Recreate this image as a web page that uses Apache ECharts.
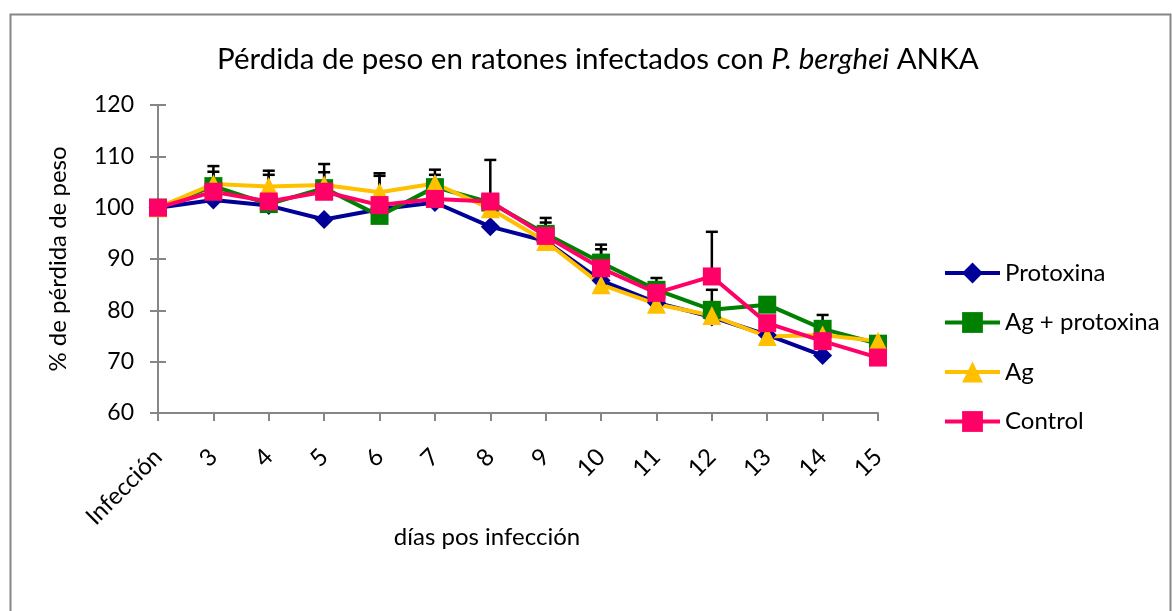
<!DOCTYPE html>
<html>
<head>
<meta charset="utf-8">
<script src="https://cdn.jsdelivr.net/npm/echarts@6/dist/echarts.min.js"></script>
<style>
html,body{margin:0;padding:0;background:#fff;}
#chart{width:1172px;height:611px;}
</style>
</head>
<body>
<div id="chart"></div>
<script>
var categories = ['Infección','3','4','5','6','7','8','9','10','11','12','13','14','15'];
var yTicks = [60, 70, 80, 90, 100, 110, 120];

var protoxina   = [100, 101.5, 100.4, 97.7, 99.7, 101.0, 96.3, 93.5, 85.8, 81.5, 78.7, 75.2, 71.2, null];
var agProtoxina = [100, 104.2, 100.7, 103.8, 98.4, 104.0, 101.0, 94.9, 89.3, 84.0, 80.1, 81.1, 76.4, 73.5];
var ag          = [100, 104.6, 104.1, 104.4, 103.0, 104.7, 99.8, 93.4, 85.0, 81.2, 79.0, 74.9, 75.2, 74.0];
var control     = [100, 103.1, 101.2, 103.1, 100.5, 101.7, 101.2, 94.5, 88.2, 83.4, 86.6, 77.5, 74.0, 70.8];

// upper error bar amounts
var errAgProtoxina = [null, 2.8, 5.7, 3.1, 7.8, 2.4, null, 3.1, 3.5, 2.3, 3.9, null, 2.7, null];
var errAg          = [null, 3.5, 3.1, 4.1, 3.7, 2.7, null, 3.7, 6.9, null, null, null, null, null];
var errControl     = [null, null, null, null, null, null, 8.1, null, null, null, 8.7, null, null, null];

var FONT = 'Lato';

function errData(vals, errs) {
  var out = [];
  for (var i = 0; i < vals.length; i++) {
    if (errs[i] != null && vals[i] != null) out.push([i, vals[i], errs[i]]);
  }
  return out;
}
var errorPoints = errData(agProtoxina, errAgProtoxina)
  .concat(errData(ag, errAg))
  .concat(errData(control, errControl));

function renderErr(params, api) {
  var i = api.value(0), v = api.value(1), e = api.value(2);
  var p0 = api.coord([i, v]);
  var p1 = api.coord([i, v + e]);
  var style = { stroke: '#000', lineWidth: 2.5 };
  return {
    type: 'group',
    children: [
      { type: 'line', shape: { x1: p0[0], y1: p0[1], x2: p1[0], y2: p1[1] }, style: style },
      { type: 'line', shape: { x1: p1[0] - 6, y1: p1[1], x2: p1[0] + 6, y2: p1[1] }, style: style }
    ]
  };
}

var chart = echarts.init(document.getElementById('chart'), null, { renderer: 'canvas' });

var axisGrey = '#868686';

function lineSeries(name, data, color, symbol, size) {
  return {
    name: name, type: 'line', data: data,
    symbol: symbol, symbolSize: size,
    lineStyle: { color: color, width: 4 },
    itemStyle: { color: color },
    z: 3,
    connectNulls: false,
    animation: false
  };
}

chart.setOption({
  backgroundColor: '#fff',
  animation: false,
  graphic: [{
    type: 'rect', left: 8, top: 12, z: 0,
    shape: { width: 1160, height: 640 },
    style: { fill: 'none', stroke: axisGrey, lineWidth: 2 }
  }],
  title: {
    text: '{n|Pérdida de peso en ratones infectados con }{i|P. berghei}{n| ANKA}',
    left: 212, top: 39,
    textStyle: {
      fontWeight: 'normal',
      rich: {
        n: { fontFamily: FONT, fontSize: 29.5, color: '#000', fontWeight: 'normal' },
        i: { fontFamily: FONT, fontSize: 29.5, color: '#000', fontStyle: 'italic', fontWeight: 'normal' }
      }
    }
  },
  legend: {
    orient: 'vertical', left: 938, top: 256,
    itemWidth: 55, itemHeight: 26, itemGap: 25.5,
    data: ['Protoxina', 'Ag + protoxina', 'Ag', 'Control'],
    lineStyle: { width: 4 },
    textStyle: { fontFamily: FONT, fontSize: 24, color: '#000' }
  },
  grid: { left: 158, right: 294, top: 105, bottom: 198, containLabel: false },
  xAxis: {
    type: 'category', data: categories, boundaryGap: false,
    name: 'días pos infección', nameLocation: 'middle', nameGap: 112, nameMoveOverlap: false,
    nameTextStyle: { fontFamily: FONT, fontSize: 24, color: '#000', padding: [0, 62, 0, 0] },
    axisLine: { lineStyle: { color: axisGrey, width: 2 } },
    axisTick: { alignWithLabel: true, length: 8, lineStyle: { color: axisGrey, width: 2 } },
    axisLabel: { rotate: 45, margin: 40, fontFamily: FONT, fontSize: 24, color: '#000', interval: 0 },
    splitLine: { show: false }
  },
  yAxis: [{
    type: 'value', min: yTicks[0], max: yTicks[yTicks.length - 1], interval: 10,
    name: '% de pérdida de peso', nameLocation: 'middle', nameGap: 88, nameRotate: 90, nameMoveOverlap: false,
    nameTextStyle: { fontFamily: FONT, fontSize: 24, color: '#000' },
    axisLine: { show: true, lineStyle: { color: axisGrey, width: 2 } },
    axisTick: { show: true, length: 8, lineStyle: { color: axisGrey, width: 2 } },
    axisLabel: { margin: 24, fontFamily: FONT, fontSize: 23, color: '#000' },
    splitLine: { show: false }
  }, {
    type: 'value', min: yTicks[0], max: yTicks[yTicks.length - 1], interval: 10, position: 'left',
    axisLine: { show: false },
    axisTick: { show: true, inside: true, length: 8, lineStyle: { color: axisGrey, width: 2 } },
    axisLabel: { show: false },
    splitLine: { show: false }
  }],
  series: [
    {
      name: 'errores', type: 'custom', renderItem: renderErr, data: errorPoints,
      encode: { x: 0, y: 1 }, z: 2, silent: true, animation: false
    },
    lineSeries('Protoxina', protoxina, '#000099', 'diamond', 19),
    lineSeries('Ag + protoxina', agProtoxina, '#008000', 'rect', 18),
    lineSeries('Ag', ag, '#FFC000', 'triangle', 19),
    lineSeries('Control', control, '#FF0066', 'rect', 18)
  ]
});
</script>
</body>
</html>
